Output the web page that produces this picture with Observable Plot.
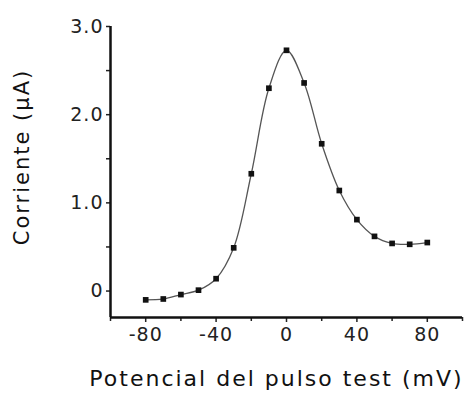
<!DOCTYPE html>
<html><head><meta charset="utf-8">
<script src="https://cdn.jsdelivr.net/npm/d3@7"></script>
<script src="https://cdn.jsdelivr.net/npm/@observablehq/plot@0.6"></script>
<style>
body{margin:0;background:#fff;}
svg{display:block;}
</style>
</head><body><div id="chart"></div>
<script>
const voltage = [-80,-70,-60,-50,-40,-30,-20,-10,0,10,20,30,40,50,60,70,80];
const current = [-0.10,-0.09,-0.04,0.01,0.14,0.49,1.33,2.30,2.73,2.36,1.67,1.14,0.81,0.62,0.54,0.53,0.55];
const xTicks = [-80,-40,0,40,80];
const xMinor = [-100,-60,-20,20,60,100];
const yTicks = [0,1,2,3];
const yMinor = [0.5,1.5,2.5];
const xDomain = [-100,100];
const yDomain = [-0.3,3.0];
const xLabel = "Potencial del pulso test (mV)";
const yLabel = "Corriente (µA)";

const data = voltage.map((v,i)=>({v, c: current[i]}));
const font = "DejaVu Sans, sans-serif";

const chart = Plot.plot({
  width: 470, height: 396,
  marginLeft: 110, marginRight: 8, marginTop: 26, marginBottom: 79,
  style: {fontFamily: font, color: "#222", background: "#fff"},
  x: {domain: xDomain},
  y: {domain: yDomain},
  marks: [
    Plot.axisX({ticks: xMinor, tickSize: 4, text: null, label: null, strokeWidth: 1.5}),
    Plot.axisX({ticks: xTicks, tickSize: 5, tickPadding: 5, fontSize: 19, label: null, strokeWidth: 1.5,
      tickFormat: d => String(d), className: "tl"}),
    Plot.axisY({ticks: yMinor, tickSize: 4, text: null, label: null, strokeWidth: 1.5}),
    Plot.axisY({ticks: yTicks, tickSize: 4, tickPadding: 3, fontSize: 19, label: null, strokeWidth: 1.5,
      tickFormat: d => d === 0 ? "0" : d3.format(".1f")(d), className: "tl"}),
    Plot.ruleX([xDomain[0]], {stroke: "#111", strokeWidth: 2.5}),
    Plot.ruleY([yDomain[0]], {stroke: "#111", strokeWidth: 2.5}),
    Plot.line(data, {x: "v", y: "c", curve: "catmull-rom", stroke: "#555", strokeWidth: 1.3}),
    Plot.dot(data, {x: "v", y: "c", symbol: "square", r: 3.2, fill: "#111", stroke: "none"}),
    Plot.text([xLabel], {frameAnchor: "bottom", dx: -10, dy: 68, fontSize: 22, fill: "#111", text: d => d, className: "al"}),
    Plot.text([yLabel], {frameAnchor: "left", textAnchor: "middle", dx: -88, dy: -15, rotate: -90, fontSize: 21, fill: "#111", text: d => d, className: "al"})
  ]
});
d3.select(chart).selectAll(".al text").attr("letter-spacing", "2px");
d3.select(chart).selectAll(".tl text").attr("letter-spacing", "1px");
document.getElementById("chart").append(chart);
</script>
</body></html>
